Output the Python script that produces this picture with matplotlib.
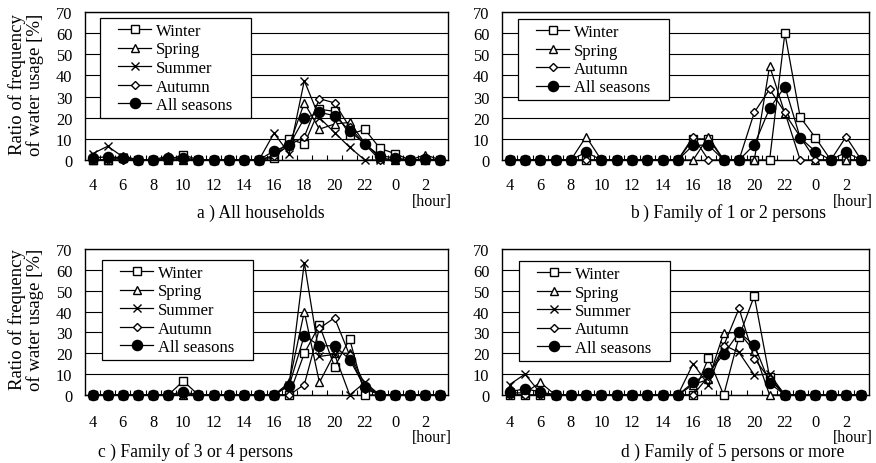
import matplotlib
matplotlib.use("Agg")
import matplotlib.pyplot as plt

plt.rcParams['font.family'] = ['Liberation Serif', 'DejaVu Serif']

W, H = 876, 464

# hours on the x axis (4 o'clock to 3 o'clock next day)
hours = [4, 5, 6, 7, 8, 9, 10, 11, 12, 13, 14, 15, 16, 17, 18, 19, 20, 21, 22, 23, 0, 1, 2, 3]

# a) All households
winter_a = [0, 0, 1, 0, 0, 0, 2.5, 0, 0, 0, 0, 0, 0.8, 10, 7.5, 24, 23, 12, 14.5, 5.5, 3, 0, 0, 0]
spring_a = [0, 0, 2, 0, 0, 2, 0, 0, 0, 0, 0, 0, 2, 7, 27, 14.6, 17, 17.8, 8, 1, 0, 0, 2.5, 0]
summer_a = [3, 6.5, 1.5, 0, 0, 0, 0, 0, 0, 0, 0, 0, 12.7, 3, 37.5, 20, 13, 6, 0, 0, 0, 0, 0, 0]
autumn_a = [0, 0, 0, 0, 0, 0, 0, 0, 0, 0, 0, 0, 2, 7, 11, 29, 27, 15.5, 7.5, 0, 0, 0, 0, 0]
all_a = [1, 1.5, 1, 0, 0, 1, 1, 0, 0, 0, 0, 0, 4.4, 7, 19.7, 22.5, 21, 13.8, 7.5, 2, 1, 0, 0.5, 0]

# b) Family of 1 or 2 persons (no summer data)
winter_b = [0, 0, 0, 0, 0, 0, 0, 0, 0, 0, 0, 0, 10, 10, 0, 0, 0, 0, 60, 20.3, 10.5, 0, 0, 0]
spring_b = [0, 0, 0, 0, 0, 11, 0, 0, 0, 0, 0, 0, 0, 11, 0, 0, 0, 44.5, 22, 11, 0, 0, 0, 0]
autumn_b = [0, 0, 0, 0, 0, 0, 0, 0, 0, 0, 0, 0, 11, 0, 0, 0, 22.5, 33.5, 22.5, 0, 0, 0, 11, 0]
all_b = [0, 0, 0, 0, 0, 3.7, 0, 0, 0, 0, 0, 0, 7, 7, 0, 0, 7.2, 24.4, 34.7, 10.5, 4, 0, 3.7, 0]

# c) Family of 3 or 4 persons
winter_c = [0, 0, 0, 0, 0, 0, 6.7, 0, 0, 0, 0, 0, 0, 0, 20, 33.5, 13.5, 26.8, 0, 0, 0, 0, 0, 0]
spring_c = [0, 0, 0, 0, 0, 0, 0, 0, 0, 0, 0, 0, 0, 6, 40, 6, 20, 20, 5, 0, 0, 0, 0, 0]
summer_c = [0, 0, 0, 0, 0, 0, 0, 0, 0, 0, 0, 0, 0, 5, 63.5, 18.5, 19.5, 0, 6, 0, 0, 0, 0, 0]
autumn_c = [0, 0, 0, 0, 0, 0, 0, 0, 0, 0, 0, 0, 0, 0, 5, 32, 37, 19, 3, 0, 0, 0, 0, 0]
all_c = [0, 0, 0, 0, 0, 0, 1.5, 0, 0, 0, 0, 0, 0, 4.5, 28.5, 23.6, 23.6, 17, 3.7, 0, 0, 0, 0, 0]

# d) Family of 5 persons or more
winter_d = [0, 0, 0, 0, 0, 0, 0, 0, 0, 0, 0, 0, 0, 17.7, 0, 28, 47.5, 8.5, 0, 0, 0, 0, 0, 0]
spring_d = [1, 1, 6, 0, 0, 0, 0, 0, 0, 0, 0, 0, 5, 7.5, 29.7, 30, 21, 0, 0, 0, 0, 0, 0, 0]
summer_d = [5, 10, 1, 0, 0, 0, 0, 0, 0, 0, 0, 0, 15, 4.8, 24, 20.4, 9.6, 10, 0, 0, 0, 0, 0, 0]
autumn_d = [0, 0, 0, 0, 0, 0, 0, 0, 0, 0, 0, 0, 0, 9, 23.6, 41.5, 17.5, 7.6, 0, 0, 0, 0, 0, 0]
all_d = [1.5, 3, 1.5, 0, 0, 0, 0, 0, 0, 0, 0, 0, 6, 10.5, 19.6, 30, 24, 5.7, 0, 0, 0, 0, 0, 0]

season_names = ['Winter', 'Spring', 'Summer', 'Autumn', 'All seasons']
panel_titles = ['a ) All households', 'b ) Family of 1 or 2 persons',
                'c ) Family of 3 or 4 persons', 'd ) Family of 5 persons or more']

panels = [
    {'Winter': winter_a, 'Spring': spring_a, 'Summer': summer_a, 'Autumn': autumn_a, 'All seasons': all_a},
    {'Winter': winter_b, 'Spring': spring_b, 'Autumn': autumn_b, 'All seasons': all_b},
    {'Winter': winter_c, 'Spring': spring_c, 'Summer': summer_c, 'Autumn': autumn_c, 'All seasons': all_c},
    {'Winter': winter_d, 'Spring': spring_d, 'Summer': summer_d, 'Autumn': autumn_d, 'All seasons': all_d},
]

styles = {
    'Winter': dict(marker='s', markersize=5.3, markerfacecolor='white'),
    'Spring': dict(marker='^', markersize=5.8, markerfacecolor='white'),
    'Summer': dict(marker='x', markersize=5.8, markeredgewidth=1.0),
    'Autumn': dict(marker='D', markersize=4.4, markerfacecolor='white'),
    'All seasons': dict(marker='o', markersize=7.3, markerfacecolor='black'),
}

# axes boxes in pixels: left, right, top, bottom
boxes = [(85, 448, 13, 161), (502, 869, 13, 161), (85, 448, 250, 396), (502, 869, 250, 396)]
tick_pad = [12.5, 12.5, 13.5, 13.5]
title_pos = [(261, 213), (728, 213), (196, 452), (733, 452)]
hour_pos = [(432, 202), (853, 202), (432, 438), (853, 438)]
legend_pos = [(118, 24), (536, 25), (120, 266), (537, 267)]


def fx(x):
    return x / W


def fy(y):
    return 1 - y / H


fig = plt.figure(figsize=(W / 100, H / 100), dpi=100)
xs = list(range(len(hours)))

for i, data in enumerate(panels):
    l, r, t, b = boxes[i]
    ax = fig.add_axes([fx(l), fy(b), (r - l) / W, (b - t) / H])
    for name in season_names:
        if name not in data:
            continue
        ax.plot(xs, data[name], color='black', lw=0.9, markeredgecolor='black',
                label=name, clip_on=False, zorder=3, **styles[name])
    ax.set_xlim(-0.5, len(hours) - 0.5)
    ax.set_ylim(0, 70)
    ax.set_yticks(range(0, 71, 10))
    ax.yaxis.grid(True, color='black', lw=0.8)
    ax.set_axisbelow(True)
    ax.set_xticks(xs[::2])
    ax.set_xticklabels([str(h) for h in hours[::2]])
    ax.set_xticks([x + 0.5 for x in xs[:-1]], minor=True)
    ax.tick_params(axis='x', which='major', length=0, pad=tick_pad[i], labelsize=11.8)
    ax.tick_params(axis='x', which='minor', direction='in', length=3.5, width=0.8)
    ax.tick_params(axis='y', length=0, pad=9, labelsize=11.8)
    for sp in ax.spines.values():
        sp.set_color('black')
        sp.set_linewidth(1.0)

    lx, ly = legend_pos[i]
    leg = ax.legend(loc='upper left', bbox_to_anchor=(fx(lx), fy(ly)),
                    bbox_transform=fig.transFigure, frameon=True, fancybox=False,
                    borderpad=0, borderaxespad=0, handlelength=2.0, handletextpad=0.3,
                    labelspacing=0.15, fontsize=12)
    frame = leg.get_frame()
    frame.set_edgecolor('black')
    frame.set_linewidth(0.9)
    frame.set_facecolor('white')
    frame.set_alpha(1)
    frame.set_boxstyle('square', pad=1.1)
    frame.set_mutation_aspect(0.25)
    leg.set_zorder(5)

    fig.text(fx(title_pos[i][0]), fy(title_pos[i][1]), panel_titles[i],
             ha='center', va='center', fontsize=12.7)
    fig.text(fx(hour_pos[i][0]), fy(hour_pos[i][1]), '[hour]',
             ha='center', va='center', fontsize=11.5)

for yc in (85, 320):
    fig.text(fx(26), fy(yc), 'Ratio of frequency\nof water usage [%]', rotation=90,
             ha='center', va='center', fontsize=13.5, linespacing=1.05)

fig.savefig('out.png', dpi=100)
